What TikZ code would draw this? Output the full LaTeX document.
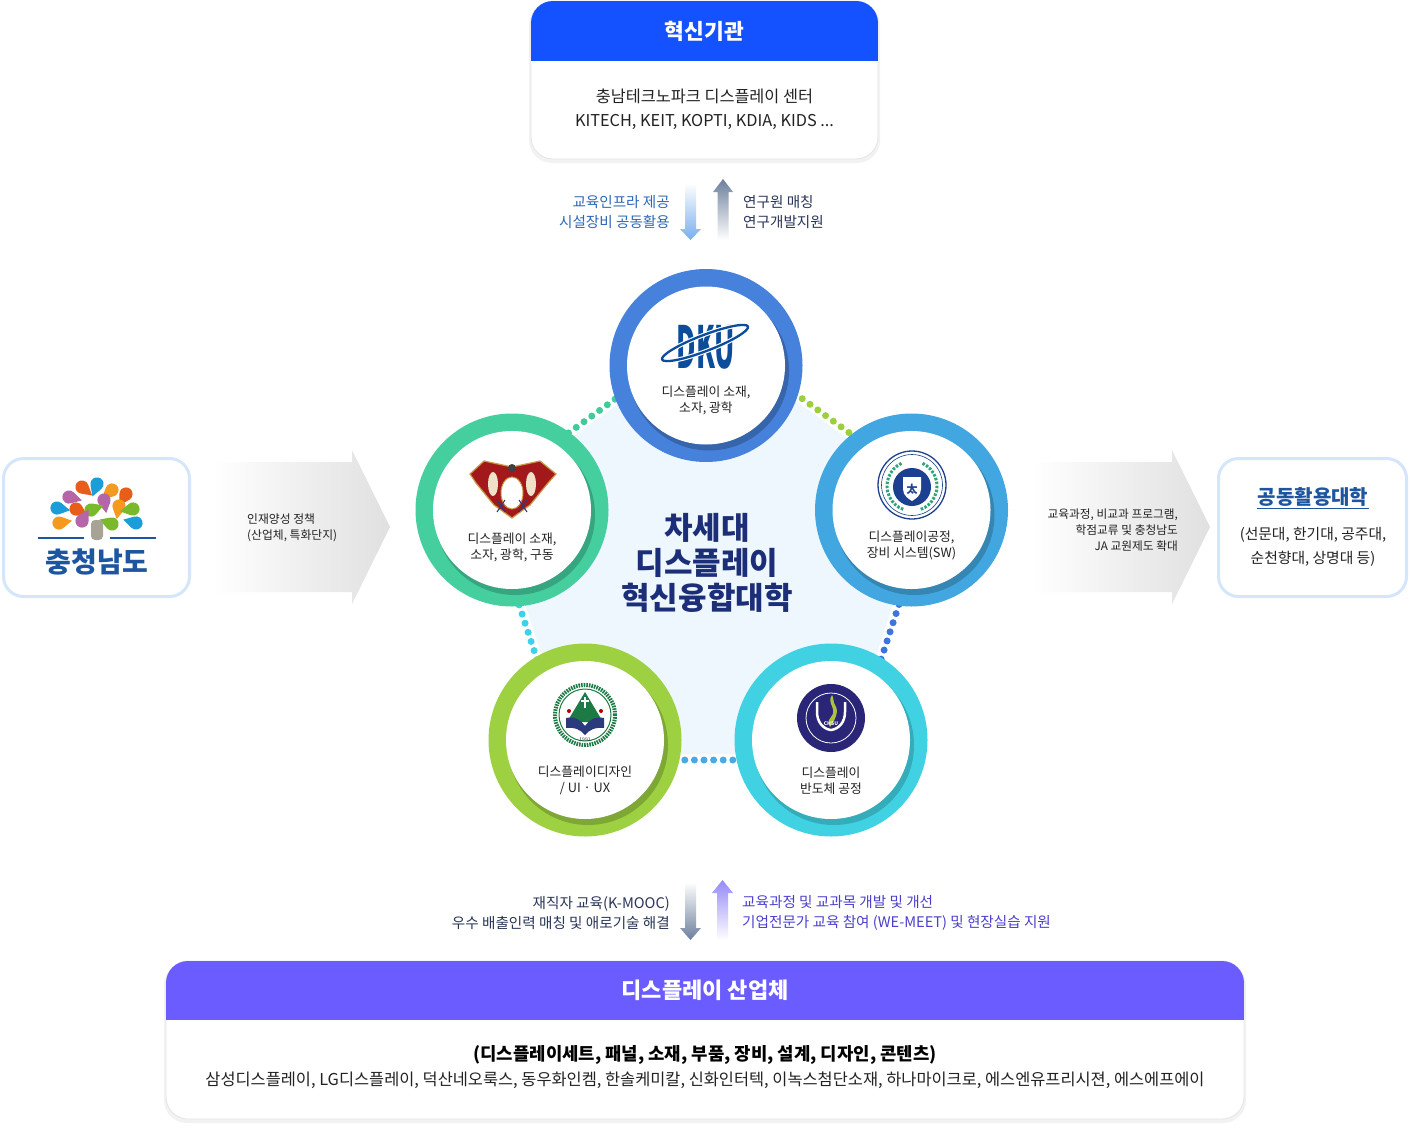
\documentclass[tikz,border=0pt]{standalone}
\usepackage{fontspec}
\setmainfont{Noto Sans CJK KR}
\newcommand\fsz[2]{\fontsize{#1}{#2}\selectfont}
\definecolor{hdrblue}{HTML}{1552FF}
\definecolor{hdrpurple}{HTML}{6A5CFF}
\definecolor{ctrnavy}{HTML}{1C2E78}
\definecolor{lblblue}{HTML}{2E67B5}
\definecolor{lbldark}{HTML}{2A3558}
\definecolor{lblpurple}{HTML}{4B3FCC}
\definecolor{cnblue}{HTML}{1D55A0}
\definecolor{boxline}{HTML}{D5E5FA}
\definecolor{pentfill}{HTML}{EEF7FE}
\definecolor{txtdark}{HTML}{222222}
\definecolor{ringA}{HTML}{4682DC}
\definecolor{ringB}{HTML}{45CF9F}
\definecolor{ringC}{HTML}{42A7E0}
\definecolor{ringD}{HTML}{9DD142}
\definecolor{ringE}{HTML}{40D2E2}
\definecolor{dotTL}{HTML}{3FCC9A}
\definecolor{dotTR}{HTML}{9BCF3C}
\definecolor{dotR}{HTML}{3C76DC}
\definecolor{dotB}{HTML}{4BA8E6}
\definecolor{dotL}{HTML}{3ED2EA}
\definecolor{arrgray}{HTML}{E0E0E0}
\definecolor{arrblueA}{HTML}{78AEEF}
\definecolor{arrslate}{HTML}{6C7F9C}
\definecolor{arrviolet}{HTML}{958AF8}
\definecolor{dkunavy}{HTML}{0B4C9B}
\definecolor{emred}{HTML}{A3191B}
\definecolor{emgold}{HTML}{C99A45}
\definecolor{emcream}{HTML}{EFE2C8}
\definecolor{hsnavy}{HTML}{1D3F8F}
\definecolor{hsgreen}{HTML}{2FA37A}
\definecolor{blgreen}{HTML}{1D7A45}
\definecolor{blnavy}{HTML}{2B3A7C}
\definecolor{chnavy}{HTML}{2A2577}
\definecolor{chyellow}{HTML}{A9C33C}
\definecolor{pOr}{HTML}{F39A1F}
\definecolor{pRd}{HTML}{E95D1B}
\definecolor{pPu}{HTML}{B565A8}
\definecolor{pBl}{HTML}{1B9DD9}
\definecolor{pGr}{HTML}{7BB92C}
\definecolor{trunk}{HTML}{A8A495}
\newcommand\ringcircle[5]{%
  \node[ringnode=#4] (#1) at (#2,#3) {};
  \fill[#5] ([xshift=3pt,yshift=-5pt]#1.center) circle (80pt);
  \fill[white] (#1.center) circle (79pt);
}
\newcommand\petal[5]{\fill[#5, shift={(#1,#2)}, rotate=#3, scale=6.6] (2,0) -- (0.5,0.866) arc[start angle=60, end angle=300, radius=1] -- cycle;}
\begin{document}
\begin{tikzpicture}[x=1pt,y=-1pt,
  lbl/.style={inner sep=0pt, font=\fsz{14.6}{20}},
  ctxt/.style={inner sep=0pt, align=center, font=\fsz{12.8}{16}, text=txtdark},
  ringnode/.style={circle, inner sep=0pt, minimum size=193pt, fill=#1},
  dotline/.style={line width=7pt, line cap=round, dash pattern=on 0pt off 9.6pt, draw=#1},
  sidebox/.style={rounded corners=20pt, fill=white, draw=boxline, line width=3pt, inner sep=0pt, minimum height=138pt},
  card/.style={rounded corners=22pt, fill=white, draw=black!10, line width=0.8pt, inner sep=0pt, minimum height=158pt}]
\useasboundingbox (0,0) rectangle (1410,1132);
\fill[white] (0,0) rectangle (1410,1132);

% ---------- top card ----------
\fill[black, opacity=0.05, rounded corners=23pt] (529,2) rectangle (880,163);
\node[card, minimum width=347pt] (topbox) at (704.5,80) {};
\begin{scope}
  \clip[rounded corners=22pt] (531,1) rectangle (878,159);
  \fill[hdrblue] (531,1) rectangle (878,61);
\end{scope}
\node[font=\bfseries\fsz{21.5}{24}, text=white] (toptitle) at (704.5,31) {혁신기관};
\node[font=\fsz{16.3}{24}, text=txtdark, align=center] (topbody) at (704.5,109) {충남테크노파크 디스플레이 센터\\KITECH, KEIT, KOPTI, KDIA, KIDS ...};

% top arrows
\shade[top color=white, bottom color=arrblueA] (685,183) -- (696,183) -- (696,229) -- (701,229) -- (690.5,240) -- (680,229) -- (685,229) -- cycle;
\shade[top color=arrslate, bottom color=white] (723,179) -- (733,192) -- (728.5,192) -- (728.5,240) -- (717.5,240) -- (717.5,192) -- (713,192) -- cycle;
\node[lbl, text=lblblue, align=right, anchor=east] (tl) at (670,212) {교육인프라 제공\\시설장비 공동활용};
\node[lbl, text=lbldark, align=left, anchor=west] (tr) at (743,212) {연구원 매칭\\연구개발지원};

% ---------- pentagon ----------
\fill[pentfill] (709,338) -- (927.7,496.9) -- (844.2,754.1) -- (573.8,754.1) -- (490.3,496.9) -- cycle;
\coordinate (vt) at (709,331);
\coordinate (vul) at (483,495);
\coordinate (vur) at (935,495);
\coordinate (vbl) at (570,760);
\coordinate (vbr) at (848,760);
\draw[dotline=dotTL] (vul) -- (vt);
\draw[dotline=dotTR] (vt) -- (vur);
\draw[dotline=dotR] (vur) -- (vbr);
\draw[dotline=dotB] (vbr) -- (vbl);
\draw[dotline=dotL] (vbl) -- (vul);

% ---------- circles ----------
\ringcircle{cdku}{706}{365.5}{ringA}{ringA!78!black}
\ringcircle{cleft}{512}{510}{ringB}{ringB!80!black}
\ringcircle{cright}{911.5}{510}{ringC}{ringC!80!black}
\ringcircle{cbl}{585}{740}{ringD}{ringD!80!black}
\ringcircle{cbr}{831}{740}{ringE}{ringE!82!black}

\node[ctxt] (tdku) at (706,400) {디스플레이 소재,\\소자, 광학};
\node[ctxt] (tleft) at (512,547) {디스플레이 소재,\\소자, 광학, 구동};
\node[ctxt] (tright) at (911.5,545) {디스플레이공정,\\장비 시스템(SW)};
\node[ctxt] (tbl) at (585,780) {디스플레이디자인\\/ UI · UX};
\node[ctxt] (tbr) at (831,781) {디스플레이\\반도체 공정};

% DKU logo
\node[font=\bfseries\fsz{58}{58}, text=dkunavy, inner sep=0pt] (dkulogo) at (706,347) {\scalebox{0.46}[1]{DKU}};
\draw[white, line width=4.5pt, rotate around={21:(705,343)}] (705,343) ellipse (46 and 8);
\draw[dkunavy, line width=2.3pt, rotate around={21:(705,343)}] (705,343) ellipse (46 and 8);

% red emblem (left)
\fill[emred] (470,474) -- (484,461) -- (512,467) -- (540,461) -- (556,474) -- (548,483) -- (530,505) -- (512,518) -- (494,505) -- (476,483) -- cycle;
\draw[emgold, line width=1.2pt] (470,474) -- (484,461) -- (512,467) -- (540,461) -- (556,474) -- (548,483) -- (530,505) -- (512,518) -- (494,505) -- (476,483) -- cycle;
\fill[emcream] (493,484) ellipse (5 and 12);
\fill[emcream] (531,484) ellipse (5 and 12);
\fill[white] (512,493) ellipse (11 and 16);
\draw[emgold, line width=1pt] (512,493) ellipse (11 and 16);
\fill[black!75] (512,468) circle (4pt);
\draw[blnavy, line width=1pt] (497,500) -- (505,512) (505,500) -- (497,512) (519,500) -- (527,512) (527,500) -- (519,512);

% Hoseo logo (right)
\fill[white] (912,485) circle (34pt);
\draw[hsnavy, line width=1.3pt] (912,485) circle (34pt);
\draw[hsnavy, line width=0.6pt] (912,485) circle (30.5pt);
\draw[hsgreen, line width=3pt, dash pattern=on 2.5pt off 1.5pt] ([shift={(115:25pt)}]912,486) arc[start angle=115, end angle=250, radius=25pt];
\draw[hsgreen, line width=3pt, dash pattern=on 2.5pt off 1.5pt] ([shift={(65:25pt)}]912,486) arc[start angle=65, end angle=-70, radius=25pt];
\fill[hsnavy] (912,487) circle (19pt);
\fill[white] (903,477) -- (921,477) -- (921,489) .. controls (921,496) and (915,499) .. (912,501) .. controls (909,499) and (903,496) .. (903,489) -- cycle;
\node[font=\bfseries\fsz{11}{11}, text=hsnavy, inner sep=0pt] (hsmark) at (912,489) {太};

% bottom-left logo
\fill[white] (585,715) circle (33pt);
\draw[blgreen, line width=4pt, dash pattern=on 1.6pt off 1pt] (585,715) circle (30pt);
\draw[blgreen, line width=1pt] (585,715) circle (26pt);
\fill[blgreen] (585,692) -- (603,722) -- (567,722) -- cycle;
\draw[white, line width=1.6pt] (585,697) -- (585,708) (581,701) -- (589,701);
\fill[blnavy] (566,718) .. controls (575,716) and (581,720) .. (585,726) .. controls (589,720) and (595,716) .. (604,718) -- (604,728) .. controls (595,727) and (589,730) .. (585,735) .. controls (581,730) and (575,727) .. (566,728) -- cycle;
\fill[red!70!black] (569,711) circle (2pt);
\fill[red!70!black] (601,711) circle (2pt);
\node[font=\fsz{5}{5}, text=black!80, inner sep=0pt] (bl1991) at (585,740) {1991};

% CHSU logo
\fill[chnavy] (831,718) circle (34pt);
\draw[white, line width=0.8pt] (831,718) circle (25pt);
\draw[white, line width=2.5pt] (817,702) -- (817,712) .. controls (817,722) and (823,729) .. (831,730) .. controls (839,729) and (845,722) .. (845,712) -- (845,702);
\fill[chyellow] (832,695) .. controls (826,703) and (838,709) .. (831,717) .. controls (827,721) and (829,725) .. (830,727) .. controls (834,721) and (840,712) .. (835,705) .. controls (833,702) and (834,698) .. (832,695) -- cycle;
\node[font=\bfseries\fsz{5}{5}, text=white, inner sep=0pt] (chsutxt) at (831,724) {CHSU};

% center title
\node[font=\bfseries\fsz{31}{35}, text=ctrnavy, align=center, inner sep=0pt] (ctitle) at (707,563) {차세대\\디스플레이\\혁신융합대학};

% ---------- left side ----------
\node[sidebox, minimum width=186pt] (lbox) at (96.5,527.5) {};
\petal{97}{484}{-110}{}{pBl}
\petal{82}{487}{-40}{}{pRd}
\petal{69}{497}{-15}{}{pPu}
\petal{112}{490}{-140}{}{pOr}
\petal{126}{494}{-120}{}{pRd}
\petal{57}{508}{-10}{}{pBl}
\petal{76}{509}{-30}{}{pRd}
\petal{104}{500}{-80}{}{pPu}
\petal{119}{506}{-100}{}{pOr}
\petal{91}{510}{20}{}{pGr}
\petal{133}{509}{-170}{}{pGr}
\petal{59}{523}{10}{}{pOr}
\petal{82}{521}{60}{}{pPu}
\petal{112}{524}{160}{}{pGr}
\petal{136}{523}{165}{}{pBl}
\fill[trunk, rounded corners=4pt] (91,540) rectangle (103,520);
\draw[cnblue, line width=1.2pt] (38,538) -- (84,538) (110,538) -- (156,538);
\node[font=\bfseries\fsz{28}{30}, text=cnblue, inner sep=0pt] (cntxt) at (97,562) {충청남도};

\shade[left color=white, right color=arrgray] (213,462) -- (352,462) -- (352,450) -- (390,527) -- (352,604) -- (352,592) -- (213,592) -- cycle;
\node[inner sep=0pt, font=\fsz{11.8}{16}, text=txtdark, align=left, anchor=west] (llbl) at (247,528) {인재양성 정책\\(산업체, 특화단지)};

% ---------- right side ----------
\shade[left color=white, right color=arrgray] (1033,462) -- (1172,462) -- (1172,450) -- (1210,527) -- (1172,604) -- (1172,592) -- (1033,592) -- cycle;
\node[inner sep=0pt, font=\fsz{11.7}{16}, text=txtdark, align=right, anchor=east] (rlbl) at (1178,530) {교육과정, 비교과 프로그램,\\학점교류 및 충청남도\\JA 교원제도 확대};
\node[sidebox, minimum width=188pt] (rbox) at (1312.5,527.5) {};
\node[font=\bfseries\fsz{20}{22}, text=cnblue, inner sep=1pt] (rtitle) at (1313,497) {공동활용대학};
\draw[cnblue, line width=1.2pt] ([yshift=-1pt]rtitle.south west) -- ([yshift=-1pt]rtitle.south east);
\node[font=\fsz{14.8}{24}, text=txtdark, align=center, inner sep=0pt] (rbody) at (1313,547) {(선문대, 한기대, 공주대,\\순천향대, 상명대 등)};

% ---------- bottom arrows ----------
\shade[top color=white, bottom color=arrslate] (685,882) -- (696,882) -- (696,928) -- (701,928) -- (690.5,940) -- (680,928) -- (685,928) -- cycle;
\shade[top color=arrviolet, bottom color=white] (722.5,880) -- (733,893) -- (728,893) -- (728,940) -- (717,940) -- (717,893) -- (712,893) -- cycle;
\node[lbl, text=lbldark, align=right, anchor=east] (bl) at (670,913) {재직자 교육(K-MOOC)\\우수 배출인력 매칭 및 애로기술 해결};
\node[lbl, text=lblpurple, align=left, anchor=west] (br) at (742,913) {교육과정 및 교과목 개발 및 개선\\기업전문가 교육 참여 (WE-MEET) 및 현장실습 지원};

% ---------- bottom card ----------
\fill[black, opacity=0.05, rounded corners=23pt] (164,962) rectangle (1246,1123);
\node[card, minimum width=1078pt] (botbox) at (705,1040) {};
\begin{scope}
  \clip[rounded corners=22pt] (166,961) rectangle (1244,1119);
  \fill[hdrpurple] (166,961) rectangle (1244,1020);
\end{scope}
\node[font=\bfseries\fsz{22}{24}, text=white] (bottitle) at (705,990) {디스플레이 산업체};
\node[font=\bfseries\fsz{17.8}{20}, text=black, inner sep=0pt] (botbold) at (705,1055) {(디스플레이세트, 패널, 소재, 부품, 장비, 설계, 디자인, 콘텐츠)};
\node[font=\fsz{16.4}{20}, text=txtdark, inner sep=0pt] (botlist) at (705,1080) {삼성디스플레이, LG디스플레이, 덕산네오룩스, 동우화인켐, 한솔케미칼, 신화인터텍, 이녹스첨단소재, 하나마이크로, 에스엔유프리시젼, 에스에프에이};
\end{tikzpicture}
\end{document}
